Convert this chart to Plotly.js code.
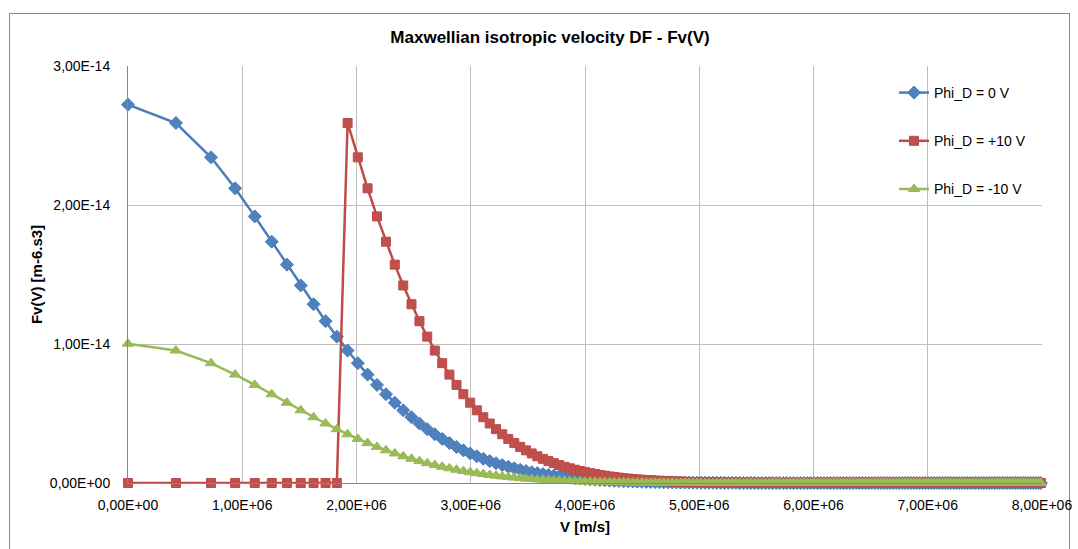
<!DOCTYPE html>
<html>
<head>
<meta charset="utf-8">
<script src="https://cdn.plot.ly/plotly-3.0.1.min.js"></script>
<style>
html,body{margin:0;padding:0;background:#fff;}
#chart{width:1078px;height:549px;}
</style>
</head>
<body>
<div id="chart"></div>
<script>
// Velocity V [m/s]
const velocity = [
0, 0.4194e6, 0.7264e6, 0.9378e6, 1.1096e6, 1.2582e6, 1.3909e6, 1.5121e6, 1.6243e6, 1.7292e6,
1.8280e6, 1.9219e6, 2.0113e6, 2.0969e6, 2.1792e6, 2.2584e6, 2.3350e6, 2.4092e6, 2.4811e6, 2.5510e6,
2.6190e6, 2.6854e6, 2.7501e6, 2.8133e6, 2.8752e6, 2.9357e6, 2.9950e6, 3.0532e6, 3.1102e6, 3.1663e6,
3.2213e6, 3.2755e6, 3.3287e6, 3.3812e6, 3.4328e6, 3.4837e6, 3.5338e6, 3.5832e6, 3.6320e6, 3.6801e6,
3.7276e6, 3.7744e6, 3.8208e6, 3.8665e6, 3.9117e6, 3.9565e6, 4.0007e6, 4.0444e6, 4.0876e6, 4.1305e6,
4.1728e6, 4.2148e6, 4.2563e6, 4.2974e6, 4.3382e6, 4.3785e6, 4.4185e6, 4.4581e6, 4.4974e6, 4.5363e6,
4.5749e6, 4.6132e6, 4.6512e6, 4.6888e6, 4.7262e6, 4.7633e6, 4.8001e6, 4.8366e6, 4.8728e6, 4.9088e6,
4.9445e6, 4.9799e6, 5.0151e6, 5.0500e6, 5.0847e6, 5.1192e6, 5.1534e6, 5.1874e6, 5.2212e6, 5.2548e6,
5.2882e6, 5.3213e6, 5.3543e6, 5.3870e6, 5.4196e6, 5.4519e6, 5.4841e6, 5.5161e6, 5.5479e6, 5.5795e6,
5.6109e6, 5.6422e6, 5.6733e6, 5.7042e6, 5.7350e6, 5.7655e6, 5.7960e6, 5.8262e6, 5.8563e6, 5.8863e6,
5.9161e6, 5.9458e6, 5.9753e6, 6.0046e6, 6.0338e6, 6.0629e6, 6.0919e6, 6.1207e6, 6.1493e6, 6.1779e6,
6.2063e6, 6.2346e6, 6.2627e6, 6.2907e6, 6.3186e6, 6.3464e6, 6.3741e6, 6.4016e6, 6.4290e6, 6.4563e6,
6.4835e6, 6.5106e6, 6.5375e6, 6.5644e6, 6.5911e6, 6.6178e6, 6.6443e6, 6.6707e6, 6.6970e6, 6.7232e6,
6.7493e6, 6.7753e6, 6.8012e6, 6.8270e6, 6.8528e6, 6.8784e6, 6.9039e6, 6.9293e6, 6.9547e6, 6.9799e6,
7.0051e6, 7.0301e6, 7.0551e6, 7.0800e6, 7.1048e6, 7.1295e6, 7.1541e6, 7.1787e6, 7.2031e6, 7.2275e6,
7.2518e6, 7.2760e6, 7.3001e6, 7.3242e6, 7.3482e6, 7.3721e6, 7.3959e6, 7.4196e6, 7.4433e6, 7.4669e6,
7.4904e6, 7.5139e6, 7.5372e6, 7.5605e6, 7.5838e6, 7.6069e6, 7.6300e6, 7.6530e6, 7.6760e6, 7.6988e6,
7.7216e6, 7.7444e6, 7.7670e6, 7.7896e6, 7.8122e6, 7.8346e6, 7.8571e6, 7.8794e6, 7.9017e6, 7.9239e6,
7.9461e6, 7.9682e6, 7.9903e6
];

// Fv(V) [m-6.s3], Phi_D = 0 V
const fvPhi0 = [
2.722e-14, 2.590e-14, 2.343e-14, 2.120e-14, 1.918e-14, 1.736e-14, 1.571e-14, 1.421e-14, 1.286e-14, 1.164e-14,
1.053e-14, 9.527e-15, 8.620e-15, 7.800e-15, 7.058e-15, 6.386e-15, 5.778e-15, 5.228e-15, 4.731e-15, 4.281e-15,
3.873e-15, 3.505e-15, 3.171e-15, 2.869e-15, 2.596e-15, 2.349e-15, 2.126e-15, 1.923e-15, 1.740e-15, 1.575e-15,
1.425e-15, 1.289e-15, 1.167e-15, 1.056e-15, 9.55e-16, 8.64e-16, 7.82e-16, 7.08e-16, 6.40e-16, 5.79e-16,
5.24e-16, 4.74e-16, 4.29e-16, 3.88e-16, 3.51e-16, 3.18e-16, 2.88e-16, 2.60e-16, 2.36e-16, 2.13e-16,
1.93e-16, 1.74e-16, 1.58e-16, 1.43e-16, 1.29e-16, 1.17e-16, 1.06e-16, 9.6e-17, 8.7e-17, 7.8e-17,
7.1e-17, 6.4e-17, 5.8e-17, 5.3e-17, 4.8e-17, 4.3e-17, 3.9e-17, 3.5e-17, 3.2e-17, 2.9e-17,
2.6e-17, 2.4e-17, 2.1e-17, 1.9e-17, 1.7e-17, 1.6e-17, 1.4e-17, 1.3e-17, 1.2e-17, 1.1e-17,
1.0e-17, 9e-18, 0, 0, 0, 0, 0, 0, 0, 0,
0, 0, 0, 0, 0, 0, 0, 0, 0, 0,
0, 0, 0, 0, 0, 0, 0, 0, 0, 0,
0, 0, 0, 0, 0, 0, 0, 0, 0, 0,
0, 0, 0, 0, 0, 0, 0, 0, 0, 0,
0, 0, 0, 0, 0, 0, 0, 0, 0, 0,
0, 0, 0, 0, 0, 0, 0, 0, 0, 0,
0, 0, 0, 0, 0, 0, 0, 0, 0, 0,
0, 0, 0, 0, 0, 0, 0, 0, 0, 0,
0, 0, 0, 0, 0, 0, 0, 0, 0, 0,
0, 0, 0
];

// Fv(V) [m-6.s3], Phi_D = +10 V
const fvPhiPlus10 = [
0, 0, 0, 0, 0, 0, 0, 0, 0, 0,
0, 2.590e-14, 2.343e-14, 2.120e-14, 1.918e-14, 1.736e-14, 1.571e-14, 1.421e-14, 1.286e-14, 1.164e-14,
1.053e-14, 9.527e-15, 8.620e-15, 7.800e-15, 7.058e-15, 6.386e-15, 5.778e-15, 5.228e-15, 4.731e-15, 4.281e-15,
3.873e-15, 3.505e-15, 3.171e-15, 2.869e-15, 2.596e-15, 2.349e-15, 2.126e-15, 1.923e-15, 1.740e-15, 1.575e-15,
1.425e-15, 1.289e-15, 1.167e-15, 1.056e-15, 9.55e-16, 8.64e-16, 7.82e-16, 7.08e-16, 6.40e-16, 5.79e-16,
5.24e-16, 4.74e-16, 4.29e-16, 3.88e-16, 3.51e-16, 3.18e-16, 2.88e-16, 2.60e-16, 2.36e-16, 2.13e-16,
1.93e-16, 1.74e-16, 1.58e-16, 1.43e-16, 1.29e-16, 1.17e-16, 1.06e-16, 9.6e-17, 8.7e-17, 7.8e-17,
7.1e-17, 6.4e-17, 5.8e-17, 5.3e-17, 4.8e-17, 4.3e-17, 3.9e-17, 3.5e-17, 3.2e-17, 2.9e-17,
2.6e-17, 2.4e-17, 2.1e-17, 1.9e-17, 1.7e-17, 1.6e-17, 1.4e-17, 1.3e-17, 1.2e-17, 1.1e-17,
1.0e-17, 9e-18, 0, 0, 0, 0, 0, 0, 0, 0,
0, 0, 0, 0, 0, 0, 0, 0, 0, 0,
0, 0, 0, 0, 0, 0, 0, 0, 0, 0,
0, 0, 0, 0, 0, 0, 0, 0, 0, 0,
0, 0, 0, 0, 0, 0, 0, 0, 0, 0,
0, 0, 0, 0, 0, 0, 0, 0, 0, 0,
0, 0, 0, 0, 0, 0, 0, 0, 0, 0,
0, 0, 0, 0, 0, 0, 0, 0, 0, 0,
0, 0, 0, 0, 0, 0, 0, 0, 0, 0,
0, 0, 0
];

// Fv(V) [m-6.s3], Phi_D = -10 V
const fvPhiMinus10 = [
1.002e-14, 9.527e-15, 8.620e-15, 7.800e-15, 7.058e-15, 6.386e-15, 5.778e-15, 5.228e-15, 4.731e-15, 4.281e-15,
3.873e-15, 3.505e-15, 3.171e-15, 2.869e-15, 2.596e-15, 2.349e-15, 2.126e-15, 1.923e-15, 1.740e-15, 1.575e-15,
1.425e-15, 1.289e-15, 1.167e-15, 1.056e-15, 9.55e-16, 8.64e-16, 7.82e-16, 7.08e-16, 6.40e-16, 5.79e-16,
5.24e-16, 4.74e-16, 4.29e-16, 3.88e-16, 3.51e-16, 3.18e-16, 2.88e-16, 2.60e-16, 2.36e-16, 2.13e-16,
1.93e-16, 1.74e-16, 1.58e-16, 1.43e-16, 1.29e-16, 1.17e-16, 1.06e-16, 9.6e-17, 8.7e-17, 7.8e-17,
7.1e-17, 6.4e-17, 5.8e-17, 5.3e-17, 4.8e-17, 4.3e-17, 3.9e-17, 3.5e-17, 3.2e-17, 2.9e-17,
2.6e-17, 2.4e-17, 2.1e-17, 1.9e-17, 1.7e-17, 1.6e-17, 1.4e-17, 1.3e-17, 1.2e-17, 1.1e-17,
1.0e-17, 9e-18, 0, 0, 0, 0, 0, 0, 0, 0,
0, 0, 0, 0, 0, 0, 0, 0, 0, 0,
0, 0, 0, 0, 0, 0, 0, 0, 0, 0,
0, 0, 0, 0, 0, 0, 0, 0, 0, 0,
0, 0, 0, 0, 0, 0, 0, 0, 0, 0,
0, 0, 0, 0, 0, 0, 0, 0, 0, 0,
0, 0, 0, 0, 0, 0, 0, 0, 0, 0,
0, 0, 0, 0, 0, 0, 0, 0, 0, 0,
0, 0, 0, 0, 0, 0, 0, 0, 0, 0,
0, 0, 0, 0, 0, 0, 0, 0, 0, 0,
0, 0, 0, 0, 0, 0, 0, 0, 0, 0,
0, 0, 0
];

const seriesNames = ['Phi_D = 0 V', 'Phi_D = +10 V', 'Phi_D = -10 V'];

const xTickVals = [0, 1e6, 2e6, 3e6, 4e6, 5e6, 6e6, 7e6, 8e6];
const xTickText = ['0,00E+00', '1,00E+06', '2,00E+06', '3,00E+06', '4,00E+06', '5,00E+06', '6,00E+06', '7,00E+06', '8,00E+06'];
const yTickVals = [0, 1e-14, 2e-14, 3e-14];
const yTickText = ['0,00E+00', '1,00E-14', '2,00E-14', '3,00E-14'];

const FONT = 'Liberation Sans, Arial, sans-serif';
const FONT_NARROW = 'Liberation Sans Narrow, Arial Narrow, Liberation Sans, sans-serif';

const traces = [
  {x: velocity, y: fvPhi0, name: seriesNames[0], type: 'scatter', mode: 'lines+markers', legendgroup: 'a',
   cliponaxis: false,
   line: {color: '#4A7EBB', width: 2.5},
   marker: {symbol: 'diamond', size: 10, color: '#4F81BD', line: {color: '#4A7EBB', width: 1}}},
  {x: velocity, y: fvPhiPlus10, name: seriesNames[1], type: 'scatter', mode: 'lines+markers', legendgroup: 'b',
   cliponaxis: false,
   line: {color: '#BE4B48', width: 2.5},
   marker: {symbol: 'square', size: 9, color: '#C0504D', line: {color: '#BE4B48', width: 1}}},
  {x: velocity, y: fvPhiMinus10, name: seriesNames[2], type: 'scatter', mode: 'lines+markers', legendgroup: 'c',
   cliponaxis: false,
   line: {color: '#98B954', width: 2.5},
   marker: {symbol: 'triangle-up', size: 10, color: '#9BBB59', line: {color: '#98B954', width: 1}}}
];

const L = 128, R = 36, T = 66, B = 66;
const W = 1078 - L - R, H = 549 - T - B;
function px2x(p){ return (p - L) / W; }
function py2y(p){ return (549 - B - p) / H; }

const layout = {
  width: 1078, height: 549,
  margin: {l: L, r: R, t: T, b: B, pad: 0},
  paper_bgcolor: '#ffffff', plot_bgcolor: '#ffffff',
  font: {family: FONT, size: 14, color: '#000000'},
  title: {text: '<b>Maxwellian isotropic velocity DF - Fv(V)</b>', font: {family: FONT_NARROW, size: 17, color: '#000'},
          x: px2x(550), xref: 'paper', xanchor: 'center', y: 1 - 37/549, yanchor: 'middle'},
  showlegend: true,
  legend: {x: px2x(894), y: py2y(77), xanchor: 'left', yanchor: 'top', bgcolor: 'rgba(0,0,0,0)',
           font: {family: FONT, size: 14, color: '#000'}, tracegroupgap: 27, itemwidth: 30},
  xaxis: {range: [0, 8e6], tickmode: 'array', tickvals: xTickVals, ticktext: xTickText,
          showgrid: true, gridcolor: '#BEBEBE', gridwidth: 1, zeroline: false,
          showline: true, linecolor: '#868686', linewidth: 1, ticks: '', ticklabelstandoff: 9,
          tickfont: {family: FONT, size: 14, color: '#000'},
          title: {text: '<b>V [m/s]</b>', font: {family: FONT_NARROW, size: 15, color: '#000'}, standoff: 9}},
  yaxis: {range: [0, 3e-14], tickmode: 'array', tickvals: yTickVals, ticktext: yTickText,
          showgrid: true, gridcolor: '#BEBEBE', gridwidth: 1, zeroline: false,
          showline: true, linecolor: '#868686', linewidth: 1, ticks: '', ticklabelstandoff: 14,
          tickfont: {family: FONT, size: 14, color: '#000'},
          title: {text: '<b>Fv(V) [m-6.s3]</b>', font: {family: FONT_NARROW, size: 15, color: '#000'}, standoff: 3}},
  shapes: [
    {type: 'rect', xref: 'paper', yref: 'paper', x0: px2x(9.5), x1: px2x(1069.5), y0: py2y(560), y1: py2y(13.5),
     line: {color: '#868686', width: 1}, fillcolor: 'rgba(0,0,0,0)', layer: 'below'}
  ]
};

Plotly.newPlot('chart', traces, layout, {displayModeBar: false, staticPlot: true});
</script>
</body>
</html>
